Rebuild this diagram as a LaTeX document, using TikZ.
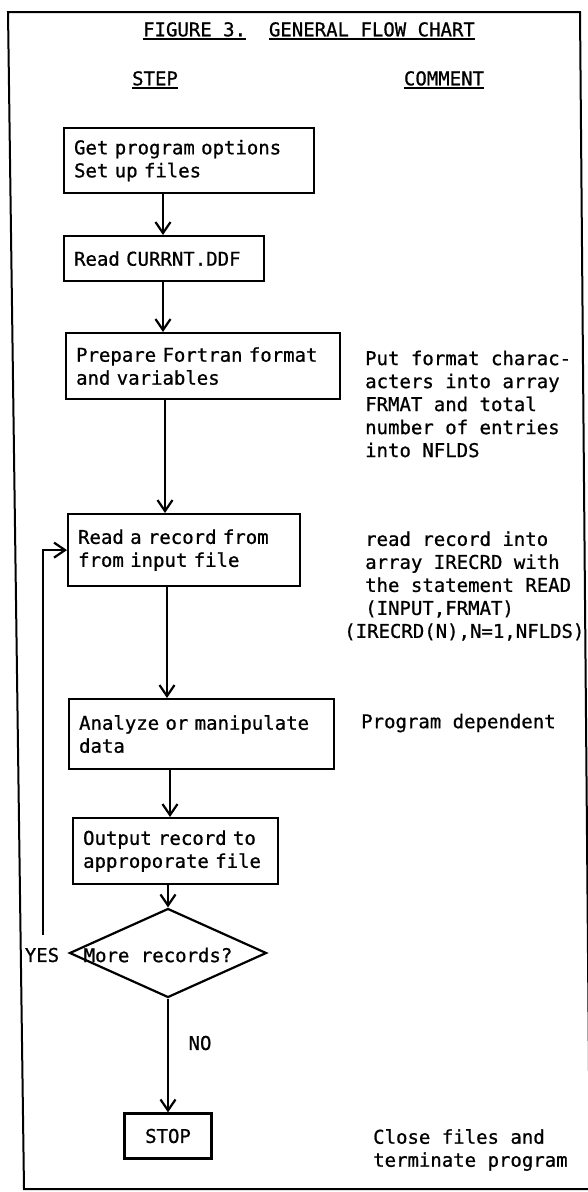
\documentclass[tikz,border=0pt]{standalone}
\usepackage{fontspec}
\usepackage{tikz}
\usetikzlibrary{arrows.meta, positioning, shapes.geometric}
\newfontfamily\chartfont[FakeBold=0.8]{DejaVu Sans Mono}
\newcommand{\ultext}[1]{\setbox0\hbox{#1}\rlap{\raisebox{-3.5pt}{\rule{\wd0}{1.6pt}}}\box0}
\tikzset{%
	every node/.style={
		font=\chartfont\fontsize{19}{23}\selectfont
	},
	stepbox/.style={
		draw,
		line width=2.2pt,
		anchor=north west,
		align=left,
		inner xsep=10pt,
		inner ysep=0pt
	},
	stopbox/.style={
		draw,
		line width=2.2pt,
		minimum width=87pt,
		minimum height=45pt
	},
	decision/.style={
		diamond,
		draw,
		line width=2.2pt,
		inner sep=0pt,
		minimum width=197pt,
		minimum height=89pt
	},
	commenttext/.style={
		anchor=west,
		align=left,
		inner sep=0pt
	},
	flow/.style={
		->,
		line width=2.2pt
	},
}

\begin{document}
\begin{tikzpicture}[x=1pt, y=-1pt, >={Straight Barb[length=11pt,width=15pt]}]
	\useasboundingbox (0,0) rectangle (587,1192);
	% Draw the frame
	\draw[line width=2pt] (8,12) -- (580,12) -- (590,1189) -- (24,1189) -- cycle;

	% Headings
	\node (title) at (309,31) {\ultext{FIGURE 3.}\ \ \ultext{GENERAL FLOW CHART}};
	\node (step) at (155,80) {\ultext{STEP}};
	\node (comment) at (444,80) {\ultext{COMMENT}};

	% Draw the steps
	\node[stepbox, text width=230pt, minimum height=65pt] (b1) at (63,127) {Get program options\\Set up files};
	\node[stepbox, text width=180pt, minimum height=45pt] (b2) at (63,235) {Read CURRNT.DDF};
	\node[stepbox, text width=254pt, minimum height=66pt] (b3) at (65,332) {Prepare Fortran format\\and variables};
	\node[stepbox, text width=212pt, minimum height=72pt] (b4) at (67,513) {Read a record from\\from input file};
	\node[stepbox, text width=245pt, minimum height=70pt] (b5) at (68,698) {Analyze or manipulate\\data};
	\node[stepbox, text width=185pt, minimum height=66pt] (b6) at (72,817) {Output record to\\approporate file};
	\node[decision] (dia) at (168,953) {};
	\node (more) at (158,955) {More records?};
	\node[stopbox] (stop) at (168,1136) {STOP};

	% Draw the arrows
	\draw[flow] ([xshift=100pt]b1.south west) -- ([xshift=100pt]b2.north west);
	\draw[flow] ([xshift=100pt]b2.south west) -- ([xshift=98pt]b3.north west);
	\draw[flow] ([xshift=100pt]b3.south west) -- ([xshift=98pt]b4.north west);
	\draw[flow] ([xshift=100pt]b4.south west) -- ([xshift=99pt]b5.north west);
	\draw[flow] ([xshift=102pt]b5.south west) -- ([xshift=98pt]b6.north west);
	\draw[flow] (b6.south -| dia.north) -- (dia.north);
	\draw[flow] (dia.south) -- (stop.north);
	\node (no) at (200,1043) {NO};
	\node (yes) at (42,955) {YES};
	\coordinate (loopstart) at (43,935);
	\draw[flow] (loopstart) |- (b4.west);

	% Comments
	\node[commenttext] (c3) at (365,404) {Put format charac-\\acters into array\\FRMAT and total\\number of entries\\into NFLDS};
	\node[commenttext] (c4) at (365,586) {read record into\\array IRECRD with\\the statement READ\\(INPUT,FRMAT)\\\hspace*{-21pt}(IRECRD(N),N=1,NFLDS)};
	\node[commenttext] (c5) at (361,723) {Program dependent};
	\node[commenttext] (c6) at (373,1150) {Close files and\\terminate program};
\end{tikzpicture}
\end{document}
